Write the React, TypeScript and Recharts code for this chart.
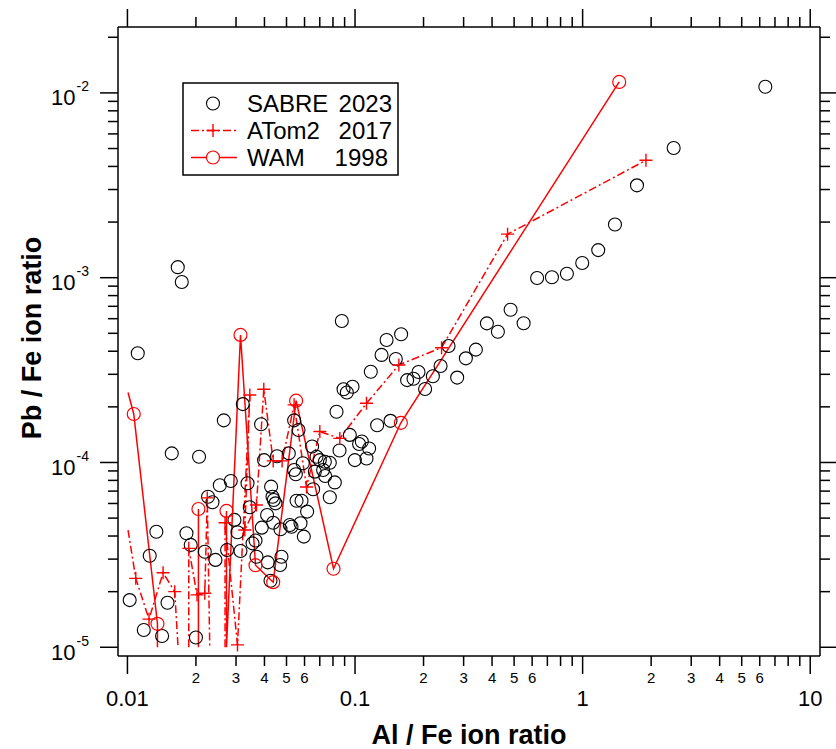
import React from 'react'
import { ComposedChart, XAxis, YAxis, Scatter, Line } from 'recharts'

// SABRE 2023 (open black circles)
const sabreAl = [
  0.0111, 0.01566, 0.02064, 0.02651, 0.03213, 0.03866, 0.0134, 0.01253, 0.01023, 0.0118,
  0.0142, 0.015, 0.01817, 0.01897, 0.02, 0.02187, 0.0226, 0.02364, 0.02546, 0.02845,
  0.02437, 0.0274, 0.02953, 0.03045, 0.03139, 0.0337, 0.03449, 0.03545, 0.03654, 0.0369,
  0.03893, 0.03985, 0.04137, 0.04252, 0.04278, 0.04339, 0.04396, 0.04472, 0.04108, 0.0437,
  0.04545, 0.04704, 0.04751, 0.04685, 0.05117, 0.05169, 0.05259, 0.054, 0.05646, 0.054,
  0.05494, 0.05534, 0.01664, 0.01733, 0.0582, 0.05897, 0.06159, 0.05957, 0.05761, 0.06478,
  0.06774, 0.07004, 0.07368, 0.07748, 0.0739, 0.08151, 0.07748, 0.08293, 0.08903, 0.09204,
  0.0975, 0.1042, 0.1071, 0.0998, 0.09487, 0.1123, 0.1173, 0.0875, 0.08549, 0.06544,
  0.06658, 0.07241, 0.1153, 0.1376, 0.1594, 0.1308, 0.1511, 0.1901, 0.1694, 0.1807,
  0.2198, 0.2376, 0.2576, 0.2032, 0.2811, 0.3069, 0.3396, 0.3796, 0.4243, 0.4826,
  0.5505, 0.1251, 0.1432, 0.631, 0.733, 0.853, 0.996, 1.171, 1.387, 1.733,
  2.512, 6.35,
]
const sabrePb = [
  3.9e-4, 1.12e-4, 1.075e-4, 1.69e-4, 2.07e-4, 1.61e-4, 4.22e-5, 3.13e-5, 1.8e-5, 1.24e-5,
  1.15e-5, 1.74e-5, 4.14e-5, 3.58e-5, 1.13e-5, 3.29e-5, 6.53e-5, 6.09e-5, 7.53e-5, 7.94e-5,
  2.97e-5, 3.36e-5, 4.89e-5, 4.19e-5, 3.32e-5, 7.72e-5, 5.72e-5, 3.65e-5, 3.78e-5, 3.09e-5,
  4.44e-5, 1.03e-4, 2.88e-5, 2.29e-5, 7.4e-5, 6.53e-5, 6.27e-5, 6.01e-5, 5.2e-5, 4.72e-5,
  1.08e-4, 4.35e-5, 3.09e-5, 2.79e-5, 1.12e-4, 4.59e-5, 4.49e-5, 1.69e-4, 1.5e-4, 9.11e-5,
  8.63e-5, 6.21e-5, 1.14e-3, 9.48e-4, 6.21e-5, 9.9e-5, 5.42e-5, 3.97e-5, 4.69e-5, 1.22e-4,
  1.075e-4, 1.03e-4, 1.01e-4, 9.97e-5, 8.45e-5, 7.8e-5, 6.48e-5, 1.88e-4, 2.49e-4, 2.39e-4,
  2.57e-4, 1.26e-4, 1.3e-4, 1.03e-4, 1.41e-4, 1.05e-4, 3.1e-4, 5.83e-4, 1.16e-4, 7.16e-5,
  8.92e-5, 9.11e-5, 1.19e-4, 4.6e-4, 4.94e-4, 3.82e-4, 3.63e-4, 3.09e-4, 2.79e-4, 2.84e-4,
  2.93e-4, 3.33e-4, 4.27e-4, 2.5e-4, 2.88e-4, 3.66e-4, 4.08e-4, 5.66e-4, 5.1e-4, 6.71e-4,
  5.67e-4, 1.59e-4, 1.68e-4, 9.96e-4, 1.005e-3, 1.05e-3, 1.2e-3, 1.41e-3, 1.94e-3, 3.16e-3,
  5.03e-3, 1.08e-2,
]

// ATom2 2017 (dash-dot line, + markers); 1e-5 = dropped to the axis floor, null = gap
const atomAl = [
  0.01006, 0.01088, 0.01244, 0.01434, 0.01614, 0.01669, 0.01669, 0.0186, 0.0186, 0.02022,
  0.02187, 0.02243, 0.023, 0.023, 0.02685, 0.02685, 0.03045, 0.03449, 0.03279, 0.0369,
  0.03973, 0.0437, 0.04782, 0.054, 0.06121, 0.07004, 0.08575, 0.1123, 0.1558, 0.24,
  0.468, 1.898,
]
const atomPb = [
  4.31e-5, 2.36e-5, 1.42e-5, 2.53e-5, 2.0e-5, 1e-5, null, 1e-5, 3.43e-5, 1.92e-5,
  1.96e-5, 6.43e-5, 1e-5, null, 1e-5, 4.72e-5, 1.03e-5, 2.32e-4, 4.31e-5, 5.89e-5,
  2.49e-4, 1.02e-4, 1.02e-4, 2.05e-4, 7.37e-5, 1.47e-4, 1.35e-4, 2.09e-4, 3.37e-4, 4.18e-4,
  1.72e-3, 4.32e-3,
]

// WAM 1998 (solid line, open red circles)
const wamAl = [
  0.01006, 0.01066, 0.01355, 0.01355, 0.01355, 0.02051, 0.02051, 0.02051, 0.02724, 0.02724,
  0.02724, 0.03139, 0.03654, 0.0437, 0.0551, 0.08044, 0.159, 1.448,
]
const wamPb = [
  2.39e-4, 1.83e-4, 1.34e-5, 1e-5, null, 1e-5, 5.6e-5, null, 1e-5, 5.47e-5,
  1e-5, 4.9e-4, 2.78e-5, 2.25e-5, 2.16e-4, 2.66e-5, 1.64e-4, 1.146e-2,
]

const xTicks = [
  0.01, 0.02, 0.03, 0.04, 0.05, 0.06, 0.07, 0.08, 0.09,
  0.1, 0.2, 0.3, 0.4, 0.5, 0.6, 0.7, 0.8, 0.9,
  1, 2, 3, 4, 5, 6, 7, 8, 9, 10,
]
const yTicks = [
  1e-5, 2e-5, 3e-5, 4e-5, 5e-5, 6e-5, 7e-5, 8e-5, 9e-5,
  1e-4, 2e-4, 3e-4, 4e-4, 5e-4, 6e-4, 7e-4, 8e-4, 9e-4,
  1e-3, 2e-3, 3e-3, 4e-3, 5e-3, 6e-3, 7e-3, 8e-3, 9e-3,
  1e-2, 2e-2,
]

const X_DOMAIN = [0.00909, 11.04]
const Y_DOMAIN = [8.97e-6, 0.02273]
const FLOOR = 1e-5

const RED = '#ff0000'
const FONT = '"Liberation Sans", Arial, Helvetica, sans-serif'

const toPoints = (xs: number[], ys: (number | null)[]) => xs.map((x, i) => ({ x, y: ys[i] }))
const sabre = toPoints(sabreAl, sabrePb)
const atom = toPoints(atomAl, atomPb)
const wam = toPoints(wamAl, wamPb)

const expo = (v: number) => Math.floor(Math.log10(v) + 1e-9)
const mant = (v: number) => Math.round(v / Math.pow(10, expo(v)))

const BottomTick = ({ x, y, payload }: any) => {
  const m = mant(payload.value)
  const major = m === 1
  return (
    <g>
      <line x1={x} x2={x} y1={y} y2={y + (major ? 18 : 10)} stroke="#000" strokeWidth={1.5} />
      {major && (
        <text x={x} y={y + 50} textAnchor="middle" fontSize={22} fontFamily={FONT} fill="#000">
          {String(payload.value)}
        </text>
      )}
      {!major && m <= 6 && (
        <text x={x} y={y + 27} textAnchor="middle" fontSize={15} fontFamily={FONT} fill="#000">
          {m}
        </text>
      )}
    </g>
  )
}

const TopTick = ({ x, y, payload }: any) => {
  const major = mant(payload.value) === 1
  return <line x1={x} x2={x} y1={y} y2={y - (major ? 18 : 10)} stroke="#000" strokeWidth={1.5} />
}

const LeftTick = ({ x, y, payload }: any) => {
  const major = mant(payload.value) === 1
  return (
    <g>
      <line x1={x} x2={x - (major ? 18 : 10)} y1={y} y2={y} stroke="#000" strokeWidth={1.5} />
      {major && (
        <text x={x - 29} y={y + 12.5} textAnchor="end" fontFamily={FONT} fill="#000">
          <tspan fontSize={22}>10</tspan>
          <tspan fontSize={14} dx={1} dy={-14}>{expo(payload.value)}</tspan>
        </text>
      )}
    </g>
  )
}

const RightTick = ({ x, y, payload }: any) => {
  const major = mant(payload.value) === 1
  return <line x1={x} x2={x + (major ? 18 : 10)} y1={y} y2={y} stroke="#000" strokeWidth={1.5} />
}

const SabreDot = ({ cx, cy }: any) => (
  <circle cx={cx} cy={cy} r={6.5} fill="none" stroke="#000" strokeWidth={1.1} />
)

// first point of each line and floor points carry no marker
const hidden = (payload: any, index: number) =>
  index === 0 || payload == null || payload.y == null || payload.y <= FLOOR

const WamDot = ({ cx, cy, index, payload }: any) =>
  hidden(payload, index) ? (
    <g key={`w${index}`} />
  ) : (
    <circle key={`w${index}`} cx={cx} cy={cy} r={6.5} fill="none" stroke={RED} strokeWidth={1.2} />
  )

const AtomDot = ({ cx, cy, index, payload }: any) =>
  hidden(payload, index) ? (
    <g key={`a${index}`} />
  ) : (
    <path
      key={`a${index}`}
      d={`M${cx - 6.5},${cy}H${cx + 6.5}M${cx},${cy - 6.5}V${cy + 6.5}`}
      stroke={RED}
      strokeWidth={1.4}
      fill="none"
    />
  )

const axisLine = { stroke: '#000', strokeWidth: 1.5 }

export default function App() {
  return (
    <div style={{ position: 'absolute', left: 0, top: 0, width: 836, height: 749, background: '#fff' }}>
      <ComposedChart width={836} height={749} margin={{ top: 0, right: 0, bottom: 0, left: 0 }}>
        <XAxis
          dataKey="x"
          type="number"
          scale="log"
          domain={X_DOMAIN}
          allowDataOverflow
          ticks={xTicks}
          interval={0}
          height={93}
          tickSize={0}
          tickMargin={0}
          tickLine={false}
          axisLine={axisLine}
          tick={(p: any) => <BottomTick {...p} />}
        />
        <XAxis
          xAxisId="top"
          orientation="top"
          dataKey="x"
          type="number"
          scale="log"
          domain={X_DOMAIN}
          allowDataOverflow
          ticks={xTicks}
          interval={0}
          height={27}
          tickSize={0}
          tickMargin={0}
          tickLine={false}
          axisLine={axisLine}
          tick={(p: any) => <TopTick {...p} />}
        />
        <YAxis
          dataKey="y"
          type="number"
          scale="log"
          domain={Y_DOMAIN}
          allowDataOverflow
          ticks={yTicks}
          interval={0}
          width={118}
          tickSize={0}
          tickMargin={0}
          tickLine={false}
          axisLine={axisLine}
          tick={(p: any) => <LeftTick {...p} />}
        />
        <YAxis
          yAxisId="right"
          orientation="right"
          dataKey="y"
          type="number"
          scale="log"
          domain={Y_DOMAIN}
          allowDataOverflow
          ticks={yTicks}
          interval={0}
          width={16}
          tickSize={0}
          tickMargin={0}
          tickLine={false}
          axisLine={axisLine}
          tick={(p: any) => <RightTick {...p} />}
        />
        <Scatter
          data={sabre}
          xAxisId="top"
          yAxisId="right"
          shape={() => <g />}
          isAnimationActive={false}
        />
        <Scatter data={sabre} shape={(p: any) => <SabreDot {...p} />} isAnimationActive={false} />
        <Line
          data={atom}
          dataKey="y"
          type="linear"
          stroke={RED}
          strokeWidth={1.5}
          strokeDasharray="8 3 2 3"
          connectNulls={false}
          dot={(p: any) => <AtomDot {...p} />}
          activeDot={false}
          isAnimationActive={false}
        />
        <Line
          data={wam}
          dataKey="y"
          type="linear"
          stroke={RED}
          strokeWidth={1.5}
          connectNulls={false}
          dot={(p: any) => <WamDot {...p} />}
          activeDot={false}
          isAnimationActive={false}
        />
      </ComposedChart>

      <svg
        width={836}
        height={749}
        style={{ position: 'absolute', left: 0, top: 0, pointerEvents: 'none' }}
        fontFamily={FONT}
      >
        <text x={469} y={744} textAnchor="middle" fontSize={27} fontWeight="bold">
          Al / Fe ion ratio
        </text>
        <text
          x={0}
          y={0}
          transform="translate(41,338) rotate(-90)"
          textAnchor="middle"
          fontSize={27}
          fontWeight="bold"
        >
          Pb / Fe ion ratio
        </text>

        <rect x={183} y={83} width={215} height={92} fill="#fff" stroke="#000" strokeWidth={1.5} />
        <circle cx={213} cy={103.5} r={6.5} fill="none" stroke="#000" strokeWidth={1.1} />
        <line x1={191} x2={237} y1={130.5} y2={130.5} stroke={RED} strokeWidth={1.5} strokeDasharray="8 3 2 3" />
        <path d="M206.5,130.5H219.5M213,124V137" stroke={RED} strokeWidth={1.4} />
        <line x1={191} x2={237} y1={157.5} y2={157.5} stroke={RED} strokeWidth={1.5} />
        <circle cx={213} cy={157.5} r={6.5} fill="#fff" stroke={RED} strokeWidth={1.2} />

        <g fontSize={24} fill="#000">
          <text x={247} y={112}>SABRE</text>
          <text x={392} y={112} textAnchor="end">2023</text>
          <text x={247} y={139}>ATom2</text>
          <text x={392} y={139} textAnchor="end">2017</text>
          <text x={247} y={166}>WAM</text>
          <text x={388} y={166} textAnchor="end">1998</text>
        </g>
      </svg>
    </div>
  )
}
